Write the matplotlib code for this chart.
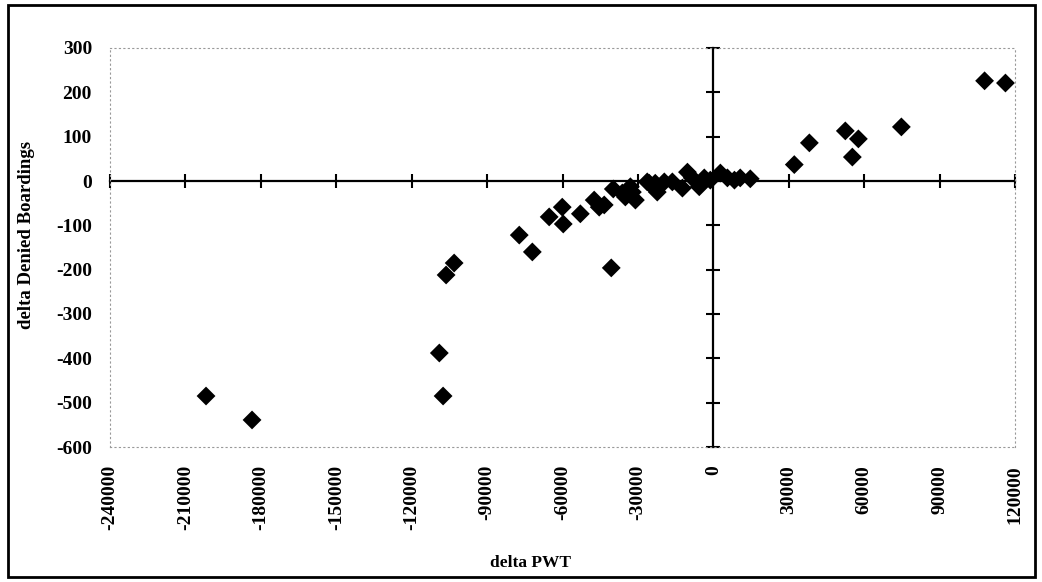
import matplotlib
matplotlib.use("Agg")
import matplotlib.pyplot as plt
from matplotlib.patches import Rectangle
import numpy as np

# Data
delta_pwt = [-201800, -183500, -109000, -107500, -106300, -103100, -77200, -72000,
             -65300, -60100, -59700, -52900, -47400, -45400, -43400, -40600,
             -39800, -36200, -35000, -33000, -32200, -31000, -26300, -25500,
             -23100, -22300, -19500, -16300, -12300, -10300, -8400, -5600,
             -3600, -1200, 2800, 5600, 8400, 10700, 14700, 32200, 38200,
             52500, 55300, 57700, 74800, 107900, 116200]
delta_denied = [-485, -539, -388, -485, -212, -185, -122, -160,
                -81, -59, -97, -74, -43, -59, -54, -196,
                -18, -27, -36, -13, -25, -43, -2, -5,
                -5, -25, -2, -2, -16, 20, 7, -13,
                7, 2, 18, 7, 2, 7, 5, 37, 86,
                113, 54, 95, 122, 226, 221]

x_ticks = list(range(-240000, 120001, 30000))
y_ticks = list(range(-600, 301, 100))
x_label = "delta PWT"
y_label = "delta Denied Boardings"

plt.rcParams['font.family'] = ['Liberation Serif', 'DejaVu Serif']
plt.rcParams['font.weight'] = 'bold'

W, H = 1042, 582
fig = plt.figure(figsize=(W / 100, H / 100), dpi=100)
fig.patch.set_facecolor('white')

left, right, top, bottom = 110, 1015, 48, 447
pos = [left / W, 1 - bottom / H, (right - left) / W, (bottom - top) / H]

# Main axes: labels + dotted frame
ax = fig.add_axes(pos)
ax.set_xlim(-240000, 120000)
ax.set_ylim(-600, 300)
ax.set_xticks(x_ticks)
ax.set_yticks(y_ticks)
ax.set_xticklabels([str(v) for v in x_ticks], rotation=90, fontsize=14, fontweight='bold')
ax.set_yticklabels([str(v) for v in y_ticks], fontsize=14, fontweight='bold')
ax.tick_params(length=0, pad=13)
for s in ax.spines.values():
    s.set_linestyle((0, (1, 3)))
    s.set_color('#999999')
    s.set_linewidth(0.8)

ax.scatter(delta_pwt, delta_denied, marker='D', s=92, color='black', zorder=5,
           edgecolors='none')

# Crossing axes at the origin
ax2 = fig.add_axes(pos, sharex=ax, sharey=ax)
ax2.patch.set_visible(False)
ax2.spines['left'].set_position(('data', 0))
ax2.spines['bottom'].set_position(('data', 0))
ax2.spines['right'].set_visible(False)
ax2.spines['top'].set_visible(False)
for k in ('left', 'bottom'):
    ax2.spines[k].set_linewidth(1.6)
    ax2.spines[k].set_color('black')
ax2.tick_params(direction='inout', length=10, width=1.5, labelleft=False,
                labelbottom=False, color='black')
ax2.set_zorder(0)
ax.set_zorder(1)
ax.patch.set_visible(False)

ax.set_xlabel(x_label, fontsize=12.5, fontweight='bold')
ax.set_ylabel(y_label, fontsize=13.5, fontweight='bold')
ax.xaxis.set_label_coords((531 - left) / (right - left), -(555 - bottom) / (bottom - top))
ax.yaxis.set_label_coords(-(left - 35) / (right - left), (bottom - 235) / (bottom - top))

# Outer frame
fig.patches.append(Rectangle((8 / W, 1 - 577 / H), (1035 - 8) / W, (577 - 5) / H,
                             transform=fig.transFigure, fill=False,
                             edgecolor='black', linewidth=2))

fig.savefig('out.png', dpi=100, facecolor='white')
